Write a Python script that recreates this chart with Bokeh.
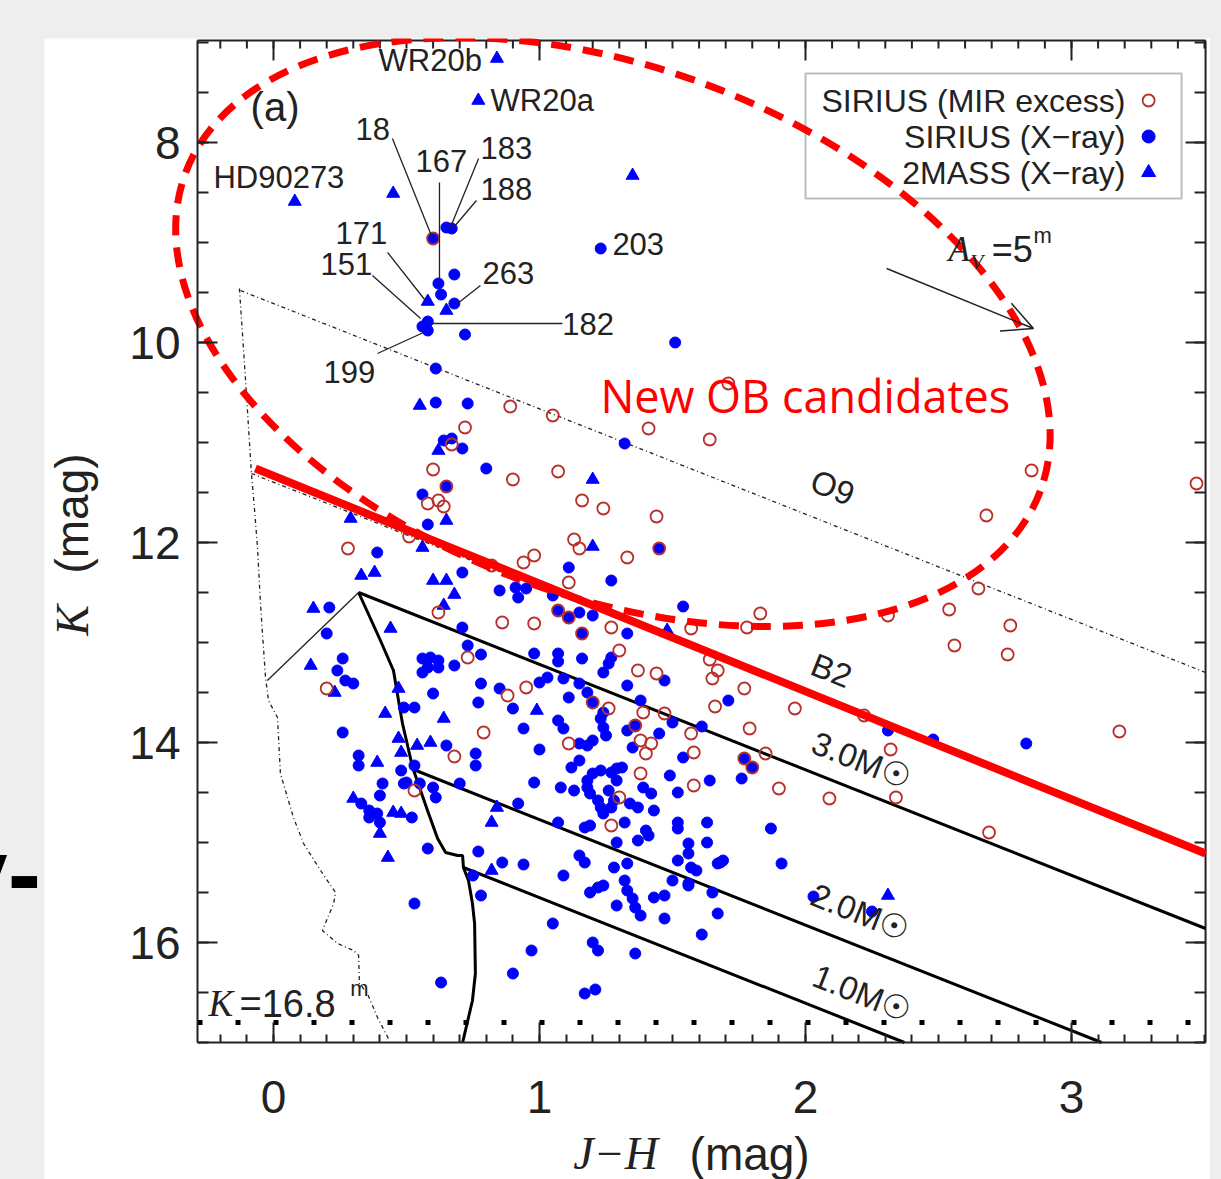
from bokeh.plotting import figure
from bokeh.layouts import row
from bokeh.models import (Range1d, FixedTicker, Label, Arrow, OpenHead, Div,
                          BoxAnnotation, GlobalInlineStyleSheet)
from bokeh.embed import file_html
from bokeh.resources import INLINE

# ---------------- data ----------------
# SIRIUS sources with mid-IR excess (open red circles)
mir_jh = [0.60,0.89,1.05,0.72,1.41,1.64,0.67,0.60,1.07,0.90,
          1.16,1.24,1.44,0.58,0.62,0.64,0.65,0.28,0.51,1.13,
          1.15,1.33,0.94,0.98,0.82,1.45,1.11,0.62,0.86,0.98,
          1.27,1.57,1.07,1.11,1.16,1.30,0.73,1.37,1.44,1.64,
          1.67,1.65,1.71,2.85,3.47,2.68,2.65,2.54,2.31,1.83,
          1.78,2.77,2.56,2.76,1.77,1.66,1.96,2.22,1.79,1.57,
          3.18,1.58,2.32,1.85,1.58,1.90,2.09,2.34,2.69,1.77,
          1.80,0.20,0.68,0.53,0.79,0.88,0.95,1.20,1.26,1.39,
          1.47,1.11,1.38,1.42,1.40,1.36,1.38,1.30,1.27]
mir_k = [8.96,10.64,10.73,10.85,10.86,10.97,11.02,11.27,11.29,11.37,
         11.58,11.66,11.74,11.61,11.58,11.64,11.44,12.06,11.94,11.97,
         12.06,12.15,12.20,12.13,12.23,12.06,12.40,12.70,12.80,12.81,
         12.85,12.86,12.68,12.75,12.91,13.08,13.15,13.28,13.31,13.17,
         13.28,13.36,10.41,11.28,11.41,11.73,12.46,12.67,12.73,12.71,
         12.85,12.83,13.03,13.12,13.46,13.64,13.66,13.73,13.86,13.91,
         13.89,14.10,14.07,14.11,14.43,14.46,14.56,14.55,14.90,14.16,
         14.25,13.46,14.14,14.48,13.90,13.53,13.45,13.60,13.66,13.70,
         13.71,14.01,13.98,14.01,14.11,13.83,14.31,14.55,14.83]

# SIRIUS X-ray sources (filled blue circles)
sx_jh = [0.60,0.65,0.67,1.23,0.68,0.62,0.63,0.68,0.58,0.58,0.56,0.72,1.51,0.61,
         0.61,0.73,0.64,0.67,0.71,0.80,1.32,0.65,0.56,0.58,0.39,0.71,1.11,1.27,0.85,0.91,
         0.92,0.95,1.05,1.54,1.07,1.11,1.15,1.20,0.71,1.16,1.33,0.21,0.20,1.45,
         0.73,0.78,0.98,1.07,1.07,1.16,1.26,1.24,1.27,0.68,0.56,0.59,0.62,0.58,0.56,0.62,
         0.26,0.24,0.27,0.30,1.47,1.71,
         0.78,0.85,1.00,1.03,1.09,1.15,1.18,1.20,1.24,1.33,1.38,1.50,1.61,1.45,0.77,0.90,
         1.11,1.07,1.09,0.49,0.53,0.60,0.94,
         1.23,1.24,1.25,1.20,1.18,1.33,1.36,1.35,1.54,1.15,1.12,1.15,1.00,0.76,0.76,0.65,
         0.32,0.32,0.26,0.48,0.53,
         0.98,1.08,1.13,1.18,1.20,1.23,1.27,1.29,1.31,1.18,1.19,1.22,1.23,1.24,1.27,1.28,
         1.29,1.26,
         1.39,1.42,1.34,1.37,1.43,1.49,1.52,1.64,1.52,1.52,1.63,1.32,1.29,1.37,1.40,1.41,
         1.17,1.19,1.07,0.92,
         0.33,0.36,0.39,0.40,0.36,0.41,0.40,0.52,0.49,0.55,0.60,0.61,0.70,0.58,0.53,0.63,
         0.77,0.86,0.94,0.75,0.78,1.09,1.15,1.17,1.28,1.33,1.32,1.33,1.35,1.36,1.38,1.29,
         1.19,1.22,1.24,1.43,1.47,1.47,1.50,1.56,1.52,1.56,1.59,1.57,1.63,1.67,1.69,1.65,
         1.67,1.61,1.05,0.97,1.20,1.22,1.36,0.90,1.17,1.21,0.50,
         2.31,2.48,2.83,1.76,1.87,1.56,1.68,1.91,1.56,2.03,2.25,1.77,1.80]
sx_k = [8.96,8.85,8.86,9.06,9.32,9.41,9.52,9.61,9.79,9.88,9.84,9.92,10.00,10.26,
        10.60,10.61,10.98,10.96,11.06,11.26,11.01,11.44,11.52,11.82,12.10,12.30,12.25,12.38,12.48,12.45,
        12.55,12.46,12.53,12.64,12.68,12.75,12.70,12.73,12.85,12.91,12.91,12.65,12.91,12.06,
        13.03,13.12,13.11,13.11,13.19,13.16,13.21,13.30,13.15,13.23,13.16,13.15,13.18,13.25,13.30,13.25,
        13.16,13.28,13.38,13.41,13.38,13.58,
        13.41,13.46,13.40,13.35,13.36,13.41,13.50,13.60,13.70,13.43,13.58,13.80,13.84,13.91,13.60,13.66,
        13.55,13.78,13.86,13.65,13.65,13.51,13.86,
        13.76,13.85,13.93,13.98,14.03,13.88,13.83,14.05,14.15,14.01,14.25,14.18,14.07,14.11,14.23,14.03,
        14.13,14.23,13.90,14.28,14.23,
        14.40,14.45,14.48,14.38,14.31,14.28,14.30,14.26,14.25,14.45,14.51,14.58,14.65,14.71,14.65,14.58,
        14.38,14.48,
        14.45,14.51,14.61,14.65,14.68,14.33,14.50,14.38,14.80,14.86,14.80,14.80,15.00,14.98,14.88,14.93,
        14.85,14.83,14.80,14.61,
        14.61,14.68,14.71,14.80,14.75,14.41,14.53,14.75,14.41,14.41,14.45,14.55,14.41,15.06,15.61,16.40,
        15.09,15.20,15.22,15.33,15.53,15.33,15.13,15.20,15.25,15.21,15.38,15.48,15.56,15.65,15.73,15.63,
        15.50,15.45,15.43,15.55,15.53,15.76,15.38,15.43,15.18,15.01,15.28,15.25,15.00,15.21,15.18,15.50,
        15.71,15.92,15.81,16.08,16.00,16.08,16.11,16.31,16.51,16.47,14.40,
        13.88,13.97,14.01,14.36,14.86,15.11,15.20,15.21,15.41,15.54,15.69,14.16,14.25]

# 2MASS X-ray sources (filled blue triangles)
tm_jh = [0.84,0.77,0.08,0.45,1.35,0.58,0.65,0.55,0.62,0.65,
         1.20,0.29,0.56,1.20,0.33,0.38,0.60,0.65,0.68,0.64,
         0.44,1.48,0.15,0.14,0.23,0.47,0.42,0.99,0.64,0.59,
         0.54,0.47,0.48,0.39,0.30,0.45,0.48,0.40,0.43,0.82,
         0.84,0.82,2.31]
tm_k = [7.16,7.58,8.59,8.51,8.33,9.59,9.68,10.63,11.08,11.78,
        11.37,11.76,12.05,12.04,12.33,12.30,12.38,12.38,12.52,12.63,
        12.86,12.88,12.66,13.23,13.50,13.46,13.71,13.68,13.76,14.00,
        14.03,13.96,14.10,14.20,14.56,14.70,14.71,14.91,15.15,14.80,
        14.65,15.28,15.53]

# reddening lines (O9, B2 and 3.0 / 2.0 / 1.0 Msun tracks)
o9_jh, o9_k = [-0.124, 3.504], [9.48, 13.30]
b2_jh, b2_k = [-0.083, 3.504], [11.31, 15.08]
m30_jh, m30_k = [0.320, 3.504], [12.50, 15.86]
m20_jh, m20_k = [0.526, 3.113], [14.27, 17.00]
m10_jh, m10_k = [0.714, 2.372], [15.25, 17.00]

# ZAMS (dotted) and PMS isochrone (solid)
zams_jh = [-0.128,-0.105,-0.083,-0.075,-0.060,-0.049,-0.030,-0.019,0.015,0.026,0.075,0.113,
           0.177,0.233,0.226,0.184,0.241,0.301,0.320,0.323,0.353,0.391,0.432]
zams_k = [9.46,10.38,11.31,11.55,12.05,12.61,13.35,13.58,13.75,14.31,14.75,15.01,
          15.28,15.50,15.61,15.88,16.01,16.08,16.13,16.41,16.51,16.75,16.96]
iso_jh = [0.320,0.402,0.451,0.470,0.485,0.523,0.579,0.617,0.647,0.692,0.711,0.714,
          0.733,0.748,0.756,0.759,0.748,0.711]
iso_k = [12.50,12.98,13.28,13.58,13.81,14.25,14.68,14.96,15.10,15.13,15.13,15.25,
         15.38,15.61,15.81,16.31,16.58,17.00]
iso_top_jh, iso_top_k = [-0.023, 0.320], [13.38, 12.50]

# OB-candidate cut (red line), completeness limit, reddening vector, candidate region
ob_cut_jh, ob_cut_k = [-0.068, 3.504], [11.26, 15.11]
k_limit = 16.8
av_jh, av_k = [2.305, 2.857], [9.26, 9.86]
cand_jh, cand_k = [1.276], [9.895]

# star identifications: name, label anchor (J-H, K), leader line start/end
star_names = ["WR20b", "WR20a", "18", "167", "183", "188", "HD90273",
              "171", "151", "263", "182", "199", "203"]
star_lab_jh = [0.395, 0.816, 0.308, 0.534, 0.778, 0.778, -0.226,
               0.233, 0.177, 0.786, 1.086, 0.188, 1.274]
star_lab_k = [7.18, 7.58, 7.86, 8.18, 8.05, 8.46, 8.35,
              8.90, 9.21, 9.30, 9.81, 10.29, 9.01]
lead_x0 = [0.447, 0.624, 0.771, 0.763, 0.429, 0.372, 0.778, 0.590, 0.391]
lead_y0 = [7.96, 8.40, 8.16, 8.58, 9.10, 9.33, 9.43, 9.81, 10.11]
lead_x1 = [0.598, 0.624, 0.665, 0.677, 0.571, 0.553, 0.692, 1.086, 0.564]
lead_y1 = [8.96, 9.41, 8.85, 8.85, 9.58, 9.76, 9.61, 9.81, 9.90]

legend_labels = ["SIRIUS (MIR excess)", "SIRIUS (X\u2212ray)", "2MASS (X\u2212ray)"]

# axis ticks
x_major = [0, 1, 2, 3]
x_minor = [round(-0.2 + 0.1 * i, 1) for i in range(38)]
y_major = [8, 10, 12, 14, 16]
y_minor = [7 + 0.5 * i for i in range(21)]

# ---------------- layout / styles ----------------
BLUE = "#0000ff"
DRED = "#b8302c"
INK = "#222222"
SANS = "Liberation Sans"
SERIF = "Liberation Serif"
PX_X, PX_Y = 266.0, 100.0           # pixels per magnitude
FX0, FX1 = -0.2857, 3.504           # plot box in J-H
FK0, FK1 = 6.98, 17.0               # plot box in K

p = figure(width=1166, height=1141,
           x_range=Range1d(-0.8609, 3.5226), y_range=Range1d(18.37, 6.96),
           output_backend="svg", toolbar_location=None,
           min_border_left=0, min_border_right=0, min_border_top=0, min_border_bottom=0)
p.margin = (38, 0, 0, 0)
p.grid.visible = False
p.outline_line_color = None
p.background_fill_color = "white"
p.border_fill_color = "white"

xax = p.xaxis[0]
yax = p.yaxis[0]
xax.ticker = FixedTicker(ticks=x_major, minor_ticks=x_minor)
yax.ticker = FixedTicker(ticks=y_major, minor_ticks=y_minor)
xax.fixed_location = FK1
yax.fixed_location = FX0
xax.bounds = (FX0, FX1)
yax.bounds = (FK0, FK1)
for ax in (xax, yax):
    ax.axis_line_width = 2
    ax.axis_line_color = INK
    ax.major_tick_line_width = 2
    ax.minor_tick_line_width = 2
    ax.major_tick_line_color = INK
    ax.minor_tick_line_color = INK
    ax.major_tick_in = 20
    ax.major_tick_out = 0
    ax.minor_tick_out = 0
    ax.major_label_text_font = SANS
    ax.major_label_text_font_size = "46px"
    ax.major_label_text_color = INK
xax.minor_tick_in = 8
yax.minor_tick_in = 11
xax.major_label_standoff = 38
yax.major_label_standoff = 17

# top and right frame edges with inward ticks
p.segment([FX0, FX1], [FK0, FK0], [FX1, FX1], [FK0, FK1], line_color=INK, line_width=2)
p.segment(x_major, [FK0] * len(x_major), x_major, [FK0 + 20 / PX_Y] * len(x_major),
          line_color=INK, line_width=2)
p.segment(x_minor, [FK0] * len(x_minor), x_minor, [FK0 + 8 / PX_Y] * len(x_minor),
          line_color=INK, line_width=2)
p.segment([FX1] * len(y_major), y_major, [FX1 - 20 / PX_X] * len(y_major), y_major,
          line_color=INK, line_width=2)
p.segment([FX1] * len(y_minor), y_minor, [FX1 - 11 / PX_X] * len(y_minor), y_minor,
          line_color=INK, line_width=2)

# legend box (under the glyphs)
p.add_layout(BoxAnnotation(left=2.0, right=3.414, top=7.31, bottom=8.56, level="underlay",
                           fill_color="white", fill_alpha=1, line_color=INK, line_width=2))

# model lines
p.line(zams_jh, zams_k, line_color=INK, line_width=1.3, line_dash="4 3 1 3")
p.line(o9_jh, o9_k, line_color=INK, line_width=1.3, line_dash="4 3 1 3")
p.line(b2_jh, b2_k, line_color=INK, line_width=1.3, line_dash="4 3 1 3")
p.line(iso_top_jh, iso_top_k, line_color=INK, line_width=1.3)
p.line(iso_jh, iso_k, line_color="black", line_width=3)
for xs, ys in ((m30_jh, m30_k), (m20_jh, m20_k), (m10_jh, m10_k)):
    p.line(xs, ys, line_color="black", line_width=3)
p.line([FX0, FX1], [k_limit, k_limit], line_color="black", line_width=5, line_dash="5 33")

# data points
p.scatter(sx_jh, sx_k, marker="circle", size=11, fill_color=BLUE, line_color=BLUE)
p.scatter(tm_jh, tm_k, marker="triangle", size=13, fill_color=BLUE, line_color=BLUE)
p.scatter(mir_jh, mir_k, marker="circle", size=12, fill_color=None, line_color=DRED, line_width=1.8)

# star identifications
p.segment(lead_x0, lead_y0, lead_x1, lead_y1, line_color=INK, line_width=1.3)
for name, x, y in zip(star_names, star_lab_jh, star_lab_k):
    p.add_layout(Label(x=x, y=y, text=name, text_font=SANS, text_font_size="31px",
                       text_color=INK, text_baseline="middle", text_align="left"))
p.add_layout(Label(x=-0.086, y=7.64, text="(a)", text_font=SANS, text_font_size="40px",
                   text_color=INK, text_baseline="middle"))

# line labels
ang = -21.7
for txt, x, y in (("O9", 2.102, 11.45), ("B2", 2.098, 13.28),
                  ("3.0M\u2609", 2.211, 14.18), ("2.0M\u2609", 2.207, 15.70),
                  ("1.0M\u2609", 2.214, 16.51)):
    p.add_layout(Label(x=x, y=y, text=txt, text_font=SANS, text_font_size="33px",
                       text_color=INK, text_align="center", text_baseline="middle",
                       angle=ang, angle_units="deg"))

# reddening vector
p.add_layout(Arrow(end=OpenHead(size=30, line_width=1.5, line_color=INK),
                   x_start=av_jh[0], y_start=av_k[0], x_end=av_jh[1], y_end=av_k[1],
                   line_color=INK, line_width=1.5))
p.add_layout(Label(x=2.538, y=9.07, text="A", text_font=SERIF, text_font_style="italic",
                   text_font_size="35px", text_color=INK, text_baseline="middle"))
p.add_layout(Label(x=2.62, y=9.19, text="V", text_font=SERIF, text_font_style="italic",
                   text_font_size="21px", text_color=INK, text_baseline="middle"))
p.add_layout(Label(x=2.70, y=9.07, text="=5", text_font=SANS, text_font_size="36px",
                   text_color=INK, text_baseline="middle"))
p.add_layout(Label(x=2.857, y=8.93, text="m", text_font=SANS, text_font_size="22px",
                   text_color=INK, text_baseline="middle"))

# completeness label
p.add_layout(Label(x=-0.244, y=16.61, text="K", text_font=SERIF, text_font_style="italic",
                   text_font_size="37px", text_color=INK, text_baseline="middle"))
p.add_layout(Label(x=-0.128, y=16.61, text="=16.8", text_font=SANS, text_font_size="38px",
                   text_color=INK, text_baseline="middle"))
p.add_layout(Label(x=0.289, y=16.46, text="m", text_font=SANS, text_font_size="22px",
                   text_color=INK, text_baseline="middle"))

# OB candidate selection
p.line(ob_cut_jh, ob_cut_k, line_color="#ff0000", line_width=8)
p.ellipse(cand_jh, cand_k, width=912, height=529, width_units="screen", height_units="screen",
          angle=-20.4, angle_units="deg", fill_color=None,
          line_color="#ff0000", line_width=7, line_dash="20 12")
p.add_layout(Label(x=1.229, y=10.53, text="New OB candidates", text_font="Open Sans",
                   text_font_size="45px", text_color="#ff0000", text_baseline="middle"))

# legend
leg_y = [7.58, 7.94, 8.30]
for txt, y in zip(legend_labels, leg_y):
    p.add_layout(Label(x=3.203, y=y, text=txt, text_font=SANS, text_font_size="32px",
                       text_color=INK, text_align="right", text_baseline="middle"))
p.scatter([3.29], [leg_y[0]], marker="circle", size=12, fill_color=None, line_color=DRED, line_width=1.8)
p.scatter([3.29], [leg_y[1]], marker="circle", size=13, fill_color=BLUE, line_color=BLUE)
p.scatter([3.29], [leg_y[2]], marker="triangle", size=14, fill_color=BLUE, line_color=BLUE)

# axis titles
p.add_layout(Label(x=1.286, y=18.11, text="J\u2212H", text_font=SERIF, text_font_style="italic",
                   text_font_size="46px", text_color=INK, text_align="center", text_baseline="middle"))
p.add_layout(Label(x=1.79, y=18.11, text="(mag)", text_font=SANS, text_font_size="46px",
                   text_color=INK, text_align="center", text_baseline="middle"))
p.add_layout(Label(x=-0.756, y=12.78, text="K", text_font=SERIF, text_font_style="italic",
                   text_font_size="46px", text_color=INK, text_align="center", text_baseline="middle",
                   angle=90, angle_units="deg"))
p.add_layout(Label(x=-0.756, y=11.71, text="(mag)", text_font=SANS, text_font_size="46px",
                   text_color=INK, text_align="center", text_baseline="middle",
                   angle=90, angle_units="deg"))

# fragment of the neighbouring slide text, visible in the grey margin at the left
side = Div(text='<div style="position:absolute; right:3px; top:823px; font:bold 100px \'Liberation Sans\';'
                ' line-height:100px; color:black; white-space:nowrap;">y-</div>',
           width=44, height=1179, margin=(0, 0, 0, 0),
           styles={"overflow": "hidden", "position": "relative"})

root = row(side, p)
root.stylesheets = [GlobalInlineStyleSheet(css="body { background-color: #eeeeee; }")]

open("out.html", "w").write(file_html(root, INLINE))
